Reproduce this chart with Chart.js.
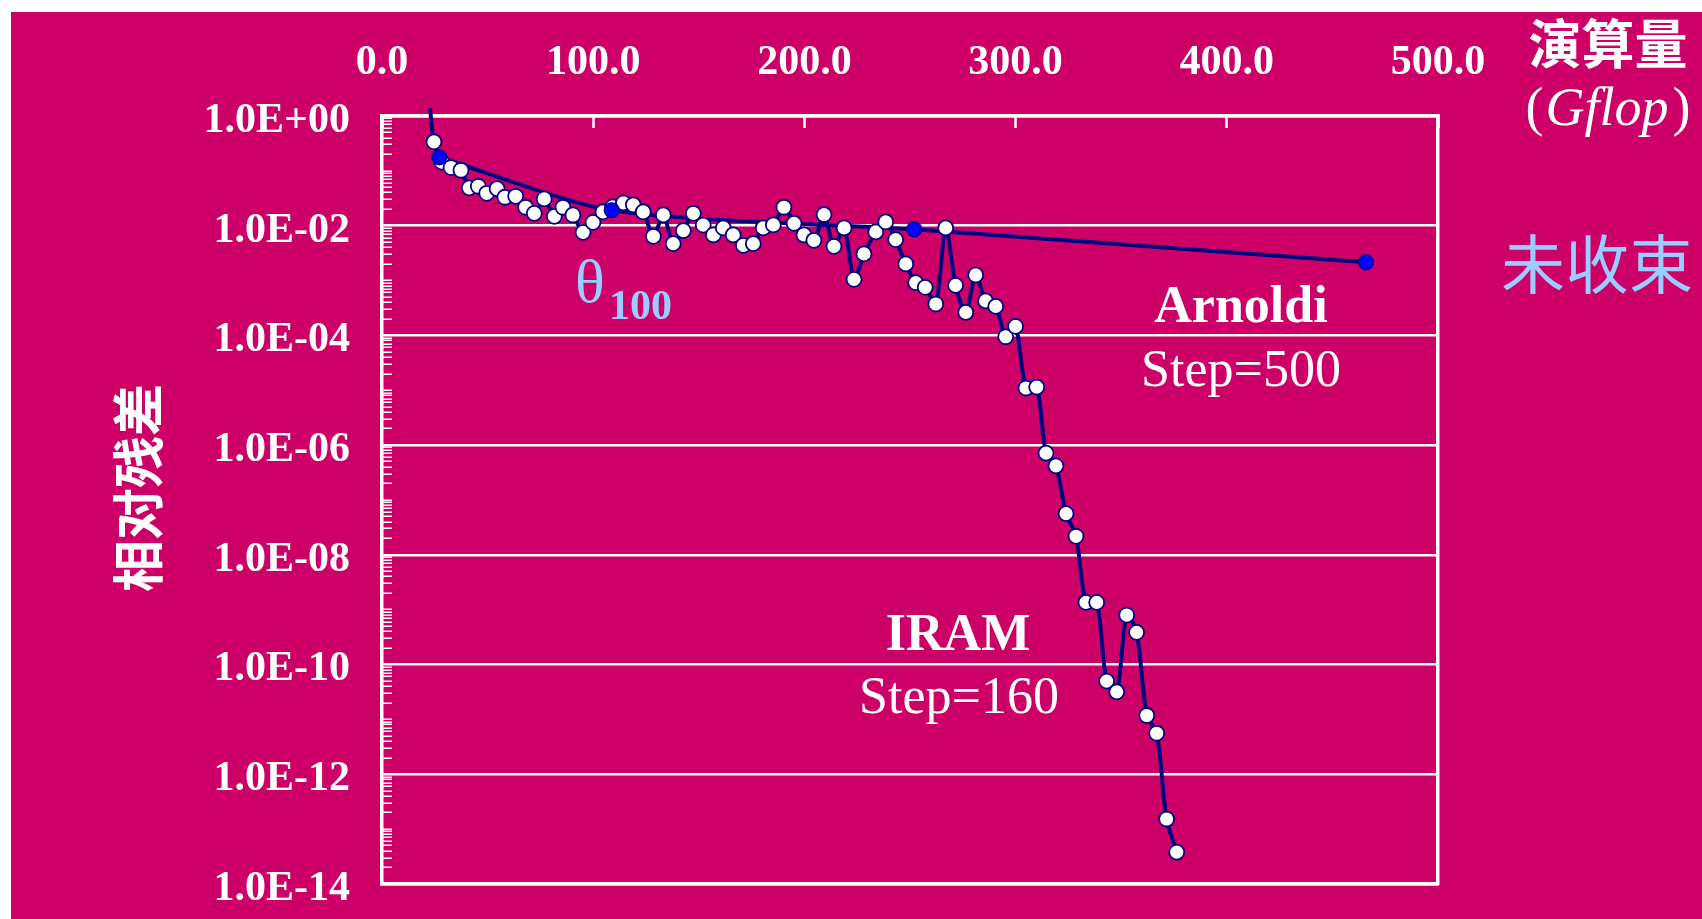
<!DOCTYPE html>
<html>
<head>
<meta charset="utf-8">
<script src="https://cdn.jsdelivr.net/npm/chart.js@4.4.1/dist/chart.umd.min.js"></script>
<style>
  html, body { margin: 0; padding: 0; background: #fff; }
  canvas { display: block; }
</style>
</head>
<body>
<canvas id="chart" width="1702" height="919"></canvas>
<script>
// IRAM, step = 160 : computational cost (Gflop) vs relative residual
const iramGflop = [
  22.7, 24.6, 28.3, 32.7, 37.4, 41.3, 45.6, 49.6, 54.5, 58.2,
  63.3, 68.0, 72.1, 76.8, 81.6, 85.7, 90.4, 95.2, 99.9, 104.6,
  109.2, 114.3, 119.0, 123.7, 128.5, 133.2, 137.9, 142.7, 147.4, 152.1,
  156.9, 161.6, 166.3, 171.1, 175.8, 180.5, 185.3, 190.3, 195.1, 199.8,
  204.5, 209.3, 214.0, 218.8, 223.5, 228.2, 233.8, 238.5, 243.2, 248.0,
  252.7, 257.2, 262.2, 266.9, 271.6, 276.4, 281.1, 285.8, 290.6, 295.3,
  300.0, 304.9, 310.0, 314.4, 319.1, 323.9, 328.6, 333.3, 338.4, 343.1,
  347.9, 352.6, 357.3, 362.1, 366.8, 371.5, 376.3
];
const iramResidual = [
  1.43, 0.338, 0.144, 0.115, 0.1025, 0.049, 0.0524, 0.039, 0.0475, 0.033,
  0.0344, 0.0217, 0.0168, 0.0308, 0.01485, 0.0217, 0.0157, 0.00758, 0.01153, 0.01786,
  0.0220, 0.0261, 0.0240, 0.01786, 0.00641, 0.01574, 0.00471, 0.00814, 0.01683, 0.01025,
  0.00679, 0.00912, 0.00679, 0.00439, 0.00471, 0.00912, 0.01035, 0.0217, 0.01106, 0.00679,
  0.00542, 0.01595, 0.00421, 0.00912, 0.00105, 0.00306, 0.0077, 0.01173, 0.00557, 0.00201,
  0.000916, 0.000752, 0.000374, 0.00912, 0.000817, 0.000263, 0.001265, 0.000425, 0.000338, 9.46e-5,
  1.46e-4, 1.10e-5, 1.14e-5, 7.14e-7, 4.19e-7, 5.65e-8, 2.18e-8, 1.36e-9, 1.36e-9, 5.0e-11,
  3.19e-11, 8.0e-10, 3.87e-10, 1.18e-11, 5.6e-12, 1.53e-13, 3.8e-14
];

// Arnoldi, step = 500
const arnoldiGflop = [27.1, 108.8, 252.0, 465.9];
const arnoldiResidual = [0.177, 0.0191, 0.00859, 0.00215];

const xTickLabels = ["0.0", "100.0", "200.0", "300.0", "400.0", "500.0"];
const yTickValues = [1, 1e-2, 1e-4, 1e-6, 1e-8, 1e-10, 1e-12, 1e-14];
const yTickLabels = ["1.0E+00", "1.0E-02", "1.0E-04", "1.0E-06", "1.0E-08", "1.0E-10", "1.0E-12", "1.0E-14"];

// minor tick marks on the log axis: 1..9 x 10^k
const yMinorTicks = [];
for (let k = -14; k < 0; k++) {
  for (let m = 1; m <= 9; m++) yMinorTicks.push(m * Math.pow(10, k));
}
yMinorTicks.push(1);

const magenta = "#CC0066";
const navy = "#000080";
const white = "#FFFFFF";
const lightBlue = "#99CCFF";
const serif = "'Liberation Serif', 'Times New Roman', serif";
const cjk = "'Noto Sans CJK SC', 'Noto Sans CJK JP', sans-serif";

function labelIndex(v) {
  return yTickValues.findIndex(t => Math.abs(v / t - 1) < 1e-6);
}

const iramPoints = iramGflop.map((x, i) => ({ x: x, y: iramResidual[i] }));
const arnoldiPoints = arnoldiGflop.map((x, i) => ({ x: x, y: arnoldiResidual[i] }));

const backdrop = {
  id: "backdrop",
  beforeDraw(chart) {
    const c = chart.ctx;
    c.save();
    c.fillStyle = white;
    c.fillRect(0, 0, chart.width, chart.height);
    c.fillStyle = magenta;
    c.fillRect(11, 12, chart.width - 11, chart.height - 12);
    c.restore();
  }
};

const notes = {
  id: "notes",
  afterDraw(chart) {
    const c = chart.ctx;
    c.save();
    c.fillStyle = white;
    c.textBaseline = "alphabetic";
    c.textAlign = "center";

    c.font = "bold 53px " + cjk;
    c.fillText("演算量", 1608, 64);

    // (Gflop) with upright brackets
    const up = "54px " + serif, it = "italic 54px " + serif;
    c.font = up; const wp = c.measureText("(").width;
    c.font = it; const wg = c.measureText("Gflop").width;
    let x0 = 1608 - (wp * 2 + wg + 6) / 2;
    c.textAlign = "left";
    c.font = up; c.fillText("(", x0, 125);
    c.font = it; c.fillText("Gflop", x0 + wp + 2, 125);
    c.font = up; c.fillText(")", x0 + wp + wg + 6, 125);

    c.textAlign = "center";
    c.font = "bold 52px " + serif;
    c.fillText("Arnoldi", 1241, 322);
    c.fillText("IRAM", 958, 650);
    c.font = "52px " + serif;
    c.fillText("Step=500", 1241, 386);
    c.fillText("Step=160", 959, 713);

    c.fillStyle = lightBlue;
    c.font = "64px " + cjk;
    c.fillText("未收束", 1597, 288);
    c.textAlign = "left";
    c.font = "62px " + serif;
    c.fillText("θ", 575, 302);
    c.font = "bold 42px " + serif;
    c.fillText("100", 609, 319);

    c.fillStyle = white;
    c.translate(138, 488);
    c.rotate(-Math.PI / 2);
    c.textAlign = "center";
    c.textBaseline = "middle";
    c.font = "bold 52px " + cjk;
    c.fillText("相对残差", 0, 0);
    c.restore();
  }
};

const tickFont = { family: serif, size: 42, weight: "bold" };

new Chart(document.getElementById("chart"), {
  type: "line",
  data: {
    datasets: [
      {
        label: "Arnoldi",
        data: arnoldiPoints,
        showLine: false,
        pointRadius: 7.5,
        pointBackgroundColor: "#0000FF",
        pointBorderColor: navy,
        pointBorderWidth: 1.3,
        order: 0
      },
      {
        label: "IRAM",
        data: iramPoints,
        showLine: false,
        pointRadius: ctx => (ctx.dataIndex === 0 ? 0 : 7.5),
        pointBackgroundColor: white,
        pointBorderColor: navy,
        pointBorderWidth: 1.8,
        order: 1
      },
      {
        label: "Arnoldi line",
        data: arnoldiPoints,
        borderColor: navy,
        borderWidth: 4,
        tension: 0.25,
        pointRadius: 0,
        order: 2
      },
      {
        label: "IRAM line",
        data: iramPoints,
        borderColor: navy,
        borderWidth: 4,
        tension: 0.3,
        pointRadius: 0,
        order: 3,
        clip: { left: 10, top: 8, right: 10, bottom: 10 }
      }
    ]
  },
  options: {
    responsive: false,
    devicePixelRatio: 1,
    animation: false,
    events: [],
    layout: { padding: { left: 0, top: 0, right: 264, bottom: 35 } },
    plugins: {
      legend: { display: false },
      tooltip: { enabled: false }
    },
    scales: {
      x: {
        type: "linear",
        position: "top",
        min: 0,
        max: 500,
        afterFit: s => { s.height = 116; },
        ticks: {
          stepSize: 100,
          color: white,
          font: tickFont,
          padding: 40,
          maxRotation: 0,
          callback: (v, i) => xTickLabels[i]
        },
        grid: { drawOnChartArea: false, tickLength: -12, tickColor: white, tickWidth: 2.5 },
        border: { color: white, width: 3.5 }
      },
      y: {
        type: "logarithmic",
        position: "left",
        min: 1e-14,
        max: 1,
        afterFit: s => {
          s.width = 382;
          s.paddingTop = 0;
          s.paddingBottom = 0;
        },
        afterBuildTicks: s => { s.ticks = yMinorTicks.map(v => ({ value: v })); },
        ticks: {
          autoSkip: false,
          color: white,
          font: tickFont,
          padding: 42,
          labelOffset: 5,
          callback: v => {
            const i = labelIndex(v);
            return i >= 0 ? yTickLabels[i] : "";
          }
        },
        grid: {
          color: ctx => (ctx.tick && labelIndex(ctx.tick.value) >= 0 ? white : "transparent"),
          lineWidth: 2.5,
          tickLength: -10,
          tickColor: white,
          tickWidth: 1.5
        },
        border: { color: white, width: 3.5 }
      },
      x2: {
        type: "linear",
        position: "bottom",
        min: 0,
        max: 500,
        afterFit: s => { s.height = 0; s.paddingLeft = 0; s.paddingRight = 0; },
        ticks: { display: false },
        grid: { drawOnChartArea: false, drawTicks: false },
        border: { color: white, width: 3.5 }
      },
      y2: {
        type: "linear",
        position: "right",
        min: 0,
        max: 1,
        afterFit: s => { s.width = 0; s.paddingTop = 0; s.paddingBottom = 0; },
        ticks: { display: false },
        grid: { drawOnChartArea: false, drawTicks: false },
        border: { color: white, width: 3.5 }
      }
    }
  },
  plugins: [backdrop, notes]
});
</script>
</body>
</html>
